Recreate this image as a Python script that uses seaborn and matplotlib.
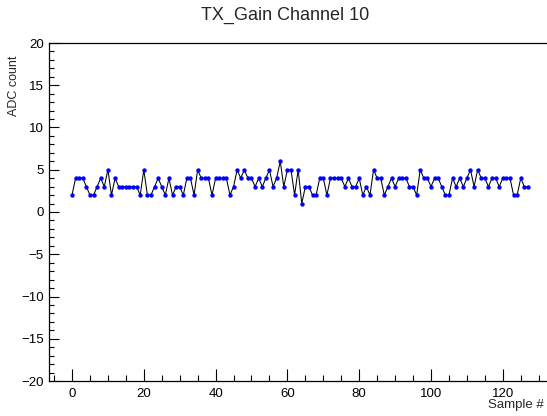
"""
plot.py
ROOT-style TGraph of ADC counts per sample (TX_Gain, channel 10), redrawn with seaborn.
"""
import numpy as np
import pandas as pd
import matplotlib
matplotlib.use("Agg")
import matplotlib.pyplot as plt
from matplotlib.ticker import MultipleLocator
import seaborn as sns

# ───────────────────────────── data ───────────────────────────── #
TITLE   = "TX_Gain Channel 10"
X_LABEL = "Sample #"
Y_LABEL = "ADC count"

adc_counts = [
    2, 4, 4, 4, 3, 2, 2, 3, 4, 3, 5, 2, 4, 3, 3, 3, 3, 3, 3, 2,   # 0-19
    5, 2, 2, 3, 4, 3, 2, 4, 2, 3, 3, 2, 4, 4, 2, 5, 4, 4, 4, 2,   # 20-39
    4, 4, 4, 4, 2, 3, 5, 4, 5, 4, 4, 3, 4, 3, 4, 5, 3, 4, 6, 3,   # 40-59
    5, 5, 2, 5, 1, 3, 3, 2, 2, 4, 4, 2, 4, 4, 4, 4, 3, 4, 3, 3,   # 60-79
    4, 2, 3, 2, 5, 4, 4, 2, 3, 4, 3, 4, 4, 4, 3, 3, 2, 5, 4, 4,   # 80-99
    3, 4, 4, 3, 2, 2, 4, 3, 4, 3, 4, 5, 3, 5, 4, 4, 3, 4, 4, 3,   # 100-119
    4, 4, 4, 2, 2, 4, 3, 3,                                       # 120-127
]
samples = list(range(len(adc_counts)))

df = pd.DataFrame({"sample": samples, "adc": adc_counts})

# ───────────────────────────── style ──────────────────────────── #
sns.set_style("ticks")
plt.rcParams["font.family"] = ["Liberation Sans", "DejaVu Sans"]
plt.rcParams["axes.unicode_minus"] = True

W, H = 547, 416
fig = plt.figure(figsize=(W / 100, H / 100), dpi=100)

# frame: left edge x=49px, y from 43px (top) to 381px (bottom);
# x range like ROOT's auto range (5% margin), right edge falls off the canvas
x_lo, x_hi = -6.35, 133.35
px_per_unit = 3.59
left_px, top_px, bot_px = 49.2, 43, 381
ax = fig.add_axes([left_px / W, (H - bot_px) / H,
                   (x_hi - x_lo) * px_per_unit / W, (bot_px - top_px) / H])

sns.lineplot(data=df, x="sample", y="adc", ax=ax, color="black",
             linewidth=0.75, estimator=None, sort=False)
sns.scatterplot(data=df, x="sample", y="adc", ax=ax, color="blue",
                s=10, edgecolor="blue", linewidth=0, zorder=3)

ax.set_xlim(x_lo, x_hi)
ax.set_ylim(-20, 20)
ax.xaxis.set_major_locator(MultipleLocator(20))
ax.xaxis.set_minor_locator(MultipleLocator(5))
ax.yaxis.set_major_locator(MultipleLocator(5))
ax.yaxis.set_minor_locator(MultipleLocator(1))

ax.tick_params(which="both", direction="in", labelsize=9.5, colors="black")
ax.tick_params(axis="x", which="major", length=9, width=0.8, pad=5)
ax.tick_params(axis="x", which="minor", length=4.5, width=0.8)
ax.tick_params(axis="y", which="major", length=7, width=0.8, pad=4)
ax.tick_params(axis="y", which="minor", length=3.5, width=0.8)
for sp in ax.spines.values():
    sp.set_linewidth(0.9)
    sp.set_color("black")
ax.spines["right"].set_visible(False)   # frame runs off the canvas on the right

ax.set_xlabel("")
ax.set_ylabel("")

# ROOT-like titles
fig.text(285 / W, 1 - 15 / H, TITLE, ha="center", va="center", fontsize=13)
fig.text(544 / W, 1 - 405 / H, X_LABEL, ha="right", va="center", fontsize=9.5)
fig.text(14 / W, 1 - 55 / H, Y_LABEL, ha="center", va="top",
         rotation=90, fontsize=9)

fig.savefig("out.png", dpi=100)
